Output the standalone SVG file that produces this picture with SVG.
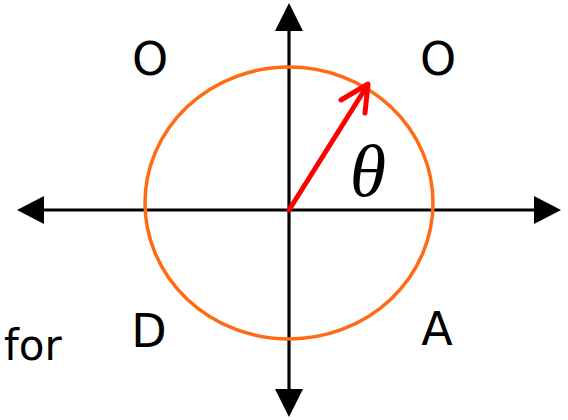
<svg xmlns="http://www.w3.org/2000/svg" width="568" height="420" viewBox="0 0 568 420">
<style>
.lbl{font-family:"DejaVu Sans",Verdana,sans-serif;font-size:46px;fill:#000;text-anchor:middle}
.ax{stroke:#000;stroke-width:3.2;fill:none}
</style>
<rect width="568" height="420" fill="#fff"/>
<g id="connectors">
<line class="ax" x1="289" y1="28" x2="289" y2="392"/>
<polygon points="289,3 275,31 303,31" fill="#000"/>
<polygon points="289,417 275,389 303,389" fill="#000"/>
<line class="ax" x1="42" y1="210" x2="536" y2="210"/>
<polygon points="17,210 44,196 44,224" fill="#000"/>
<polygon points="561,210 534,196 534,224" fill="#000"/>
</g>
<g id="circle">
<ellipse cx="289" cy="203" rx="144" ry="136" fill="none" stroke="#FF6A13" stroke-width="3.5"/>
</g>
<g id="vector">
<line x1="289" y1="210" x2="367" y2="86" stroke="#FF0000" stroke-width="5" stroke-linecap="round"/>
<polyline points="341,100 368,84 365,113" fill="none" stroke="#FF0000" stroke-width="5" stroke-linecap="round" stroke-linejoin="round"/>
</g>
<g id="theta"><text x="368" y="196" font-family="'Liberation Serif',serif" font-style="italic" font-size="74" text-anchor="middle">θ</text></g>
<g id="lblO1"><text class="lbl" x="150" y="75">O</text></g>
<g id="lblO2"><text class="lbl" x="438" y="75">O</text></g>
<g id="lblD"><text class="lbl" x="149" y="347">D</text></g>
<g id="lblA"><text class="lbl" x="437" y="345">A</text></g>
<g id="for"><text x="4" y="360" font-family="'DejaVu Sans',Verdana,sans-serif" font-size="42">for</text></g>
</svg>
